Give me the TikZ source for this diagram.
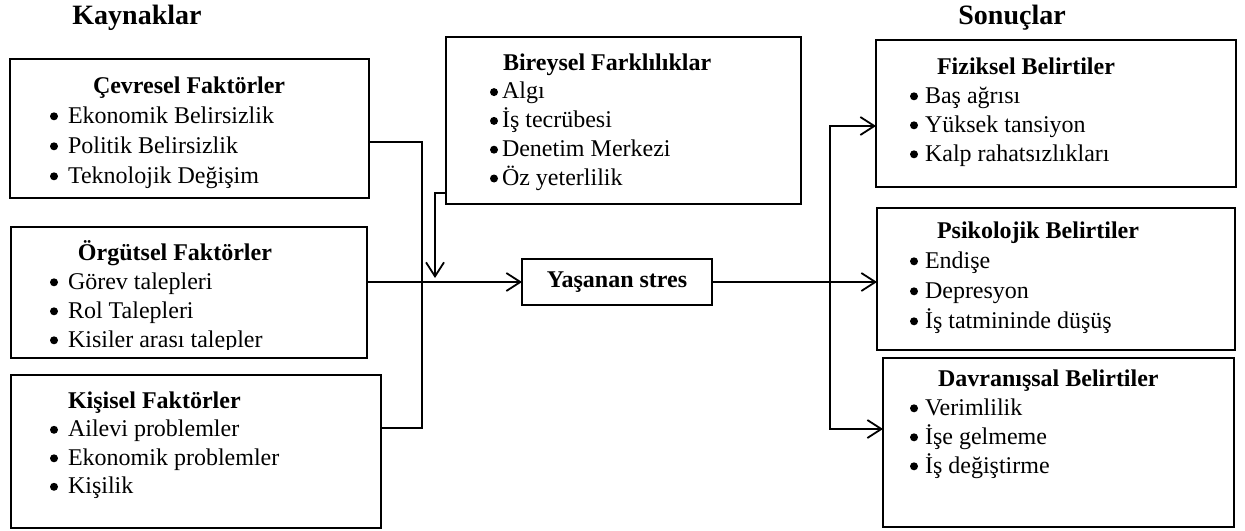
\documentclass[tikz,border=0pt]{standalone}
\usepackage{fontspec}
\setmainfont{Liberation Serif}
\usetikzlibrary{arrows.meta}
\begin{document}
\begin{tikzpicture}[x=0.5pt,y=-0.5pt,
  box/.style={draw, line width=0.9pt, inner sep=0pt, outer sep=0pt, anchor=north west},
  lst/.style={anchor=base west, inner sep=0pt, outer sep=0pt},
  ttl/.style={anchor=base west, inner sep=0pt, font=\fontsize{14}{16}\selectfont\bfseries},
  conn/.style={line width=0.9pt},
  arr/.style={conn, -{Straight Barb[length=7pt,width=9pt]}},
  barr/.style={conn, {Straight Barb[length=7pt,width=9pt]}-{Straight Barb[length=7pt,width=9pt]}},
  dot/.style={fill=black}]
\useasboundingbox (0,0) rectangle (1245,530);

% titles
\node[ttl] (kay) at (72,25) {Kaynaklar};
\node[ttl] (son) at (958,25) {Sonuçlar};

% boxes
\node[box, minimum width=179.5pt, minimum height=69.5pt] (cev) at (10,59) {};
\node[box, minimum width=178pt, minimum height=65.5pt] (org) at (11,227) {};
\node[box, minimum width=185pt, minimum height=76.5pt] (kis) at (11,375) {};
\node[box, minimum width=177.5pt, minimum height=83.5pt] (bir) at (446,37) {};
\node[box, minimum width=180pt, minimum height=73.5pt] (fiz) at (876,40) {};
\node[box, minimum width=179pt, minimum height=71pt] (psi) at (877,208) {};
\node[box, minimum width=175.5pt, minimum height=84.5pt] (dav) at (883,358) {};
\node[box, anchor=center, minimum width=95pt, minimum height=23pt,
      font=\fontsize{12}{14}\selectfont\bfseries] (str) at (617,282) {Yaşanan stres};

% box contents
\node[lst, font=\fontsize{12}{15}\selectfont] (cevl) at (68,93) {\begin{tabular}[t]{@{}l@{}}
\hspace{12.5pt}\textbf{Çevresel Faktörler}\\
Ekonomik Belirsizlik\\
Politik Belirsizlik\\
Teknolojik Değişim\end{tabular}};

\begin{scope}
\clip (11,227) rectangle (367,349);
\node[lst, font=\fontsize{12}{14.5}\selectfont] (orgl) at (68,260) {\begin{tabular}[t]{@{}l@{}}
\hspace{5pt}\textbf{Örgütsel Faktörler}\\
Görev talepleri\\
Rol Talepleri\\
Kisiler arası talepler\end{tabular}};
\end{scope}

\node[lst, font=\fontsize{12}{14.25}\selectfont] (kisl) at (68,408) {\begin{tabular}[t]{@{}l@{}}
\textbf{Kişisel Faktörler}\\
Ailevi problemler\\
Ekonomik problemler\\
Kişilik\end{tabular}};

\node[lst, font=\fontsize{12}{14.4}\selectfont] (birl) at (502,70) {\begin{tabular}[t]{@{}l@{}}
\hspace{0.5pt}\textbf{Bireysel Farklılıklar}\\
Algı\\
İş tecrübesi\\
Denetim Merkezi\\
Öz yeterlilik\end{tabular}};

\node[lst, font=\fontsize{12}{14.5}\selectfont] (fizl) at (925,74) {\begin{tabular}[t]{@{}l@{}}
\hspace{6pt}\textbf{Fiziksel Belirtiler}\\
Baş ağrısı\\
Yüksek tansiyon\\
Kalp rahatsızlıkları\end{tabular}};

\node[lst, font=\fontsize{12}{15}\selectfont] (psil) at (925,238) {\begin{tabular}[t]{@{}l@{}}
\hspace{6pt}\textbf{Psikolojik Belirtiler}\\
Endişe\\
Depresyon\\
İş tatmininde düşüş\end{tabular}};

\node[lst, font=\fontsize{12}{14.5}\selectfont] (davl) at (925,386) {\begin{tabular}[t]{@{}l@{}}
\hspace{6.5pt}\textbf{Davranışsal Belirtiler}\\
Verimlilik\\
İşe gelmeme\\
İş değiştirme\end{tabular}};

% bullets
\foreach \cx/\cy in {54/116.3, 54/146.3, 54/176.3,
                     54/282.3, 54/311.3, 54/340.3,
                     54/429.8, 54/458.3, 54/486.8,
                     494/92.1, 494/120.9, 494/149.7, 494/178.5,
                     914/96.3, 914/125.3, 914/154.3,
                     914/261.3, 914/291.3, 914/321.3,
                     914/408.3, 914/437.3, 914/466.3}
  \fill[dot] (\cx,\cy) circle[radius=2pt];

% connectors
\coordinate (j1) at (422,142);
\coordinate (j2) at (422,428);
\draw[conn] (cev.east |- j1) -- (j1) -- (j2) -- (kis.east |- j2);
\draw[arr] (org.east |- str.west) -- (str.west);
\coordinate (b1) at (435,193);
\coordinate (b2) at (435,278);
\draw[arr] (bir.west |- b1) -- (b1) -- (b2);
\draw[arr] (str.east) -- (psi.west |- str.east);
\coordinate (k1) at (830,126);
\coordinate (k2) at (830,429);
\draw[barr] (fiz.west |- k1) -- (k1) -- (k2) -- (dav.west |- k2);
\end{tikzpicture}
\end{document}
